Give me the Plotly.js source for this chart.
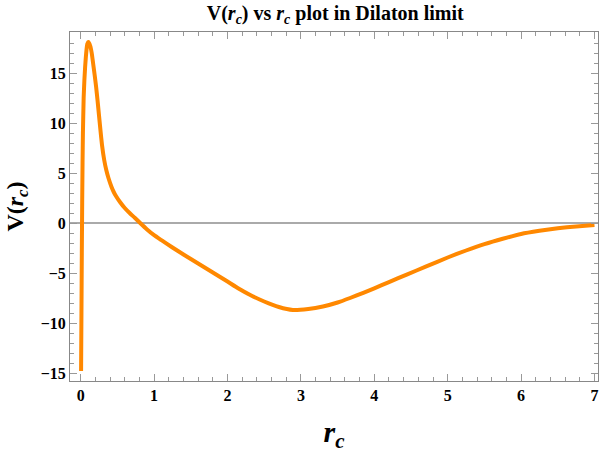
<!DOCTYPE html>
<html lang="en">
<head>
    <meta charset="UTF-8">
    <title>V(rc) vs rc plot in Dilaton limit</title>
    <script src="https://cdn.plot.ly/plotly-3.0.1.min.js"></script>
    <style>
        body { margin: 0; background: white; }
        #chart { width: 604px; height: 453px; }
    </style>
</head>
<body>
    <div id="chart"></div>
    <script>
        // values
        const rc = [0.005, 0.01, 0.015, 0.02, 0.025, 0.03, 0.04, 0.05, 0.06, 0.07, 0.08, 0.09, 0.105,
            0.13, 0.15, 0.17, 0.19, 0.21, 0.23, 0.25, 0.27, 0.29, 0.32, 0.35, 0.38, 0.42, 0.45, 0.48, 0.535,
            0.6, 0.67, 0.74, 0.81, 0.9, 1.0, 1.1, 1.25, 1.4, 1.6, 1.8, 2.0, 2.15, 2.31, 2.5, 2.7,
            2.89, 3.1, 3.3, 3.5, 3.67, 3.85, 4.0, 4.2, 4.45, 4.7, 5.0, 5.25, 5.5, 5.75, 6.0, 6.25, 6.5,
            6.75, 7.0];
        const V = [-14.8, -9, -3, 2, 6, 9, 12.5, 14.3, 15.6, 16.6, 17.4, 17.9, 18.1,
            17.7, 17.0, 15.9, 14.8, 13.6, 12.2, 10.7, 9.2, 7.8, 6.3, 5.25, 4.45, 3.6, 3.1, 2.7, 2.1,
            1.5, 0.97, 0.5, 0, -0.62, -1.22, -1.72, -2.45, -3.15, -4.05, -4.95, -5.85, -6.55, -7.2, -7.85, -8.4,
            -8.7, -8.6, -8.35, -7.95, -7.5, -6.98, -6.53, -5.91, -5.13, -4.37, -3.45, -2.75, -2.12, -1.58, -1.1, -0.78, -0.52,
            -0.34, -0.2];
        const xTicks = [0, 1, 2, 3, 4, 5, 6, 7];
        const yTicks = [-15, -10, -5, 0, 5, 10, 15];

        const font = 'Liberation Serif, Times New Roman, serif';

        const trace = {
            x: rc,
            y: V,
            mode: 'lines',
            line: { color: '#ff8800', width: 4, shape: 'spline', smoothing: 0.4 },
            hoverinfo: 'none'
        };

        const layout = {
            width: 604,
            height: 453,
            margin: { l: 70, r: 6, t: 32, b: 72 },
            paper_bgcolor: 'white',
            plot_bgcolor: 'white',
            showlegend: false,
            title: {
                text: '<b>V(<i>r<sub>c</sub></i>) vs <i>r<sub>c</sub></i> plot in Dilaton limit</b>',
                font: { family: font, size: 20, color: '#000' },
                x: 0.555, xanchor: 'center', y: 0.972, yanchor: 'middle'
            },
            xaxis: {
                range: [-0.146, 7.048],
                tickvals: xTicks,
                ticks: 'inside', ticklen: 7, tickcolor: '#999', tickwidth: 1,
                minor: { dtick: 0.2, ticks: 'inside', ticklen: 4, tickcolor: '#999' },
                showgrid: false, zeroline: false,
                showline: true, linecolor: '#888', linewidth: 1, mirror: 'ticks',
                tickfont: { family: font, size: 16, color: '#000', weight: 'bold' },
                title: {
                    text: '<b><i>r<sub>c</sub></i></b>',
                    font: { family: font, size: 30, color: '#000' },
                    standoff: 18
                }
            },
            yaxis: {
                range: [-15.8, 19.1],
                tickvals: yTicks,
                ticks: 'inside', ticklen: 7, tickcolor: '#999', tickwidth: 1,
                minor: { dtick: 1, ticks: 'inside', ticklen: 4, tickcolor: '#999' },
                showgrid: false,
                zeroline: true, zerolinecolor: '#aaa', zerolinewidth: 1.5,
                showline: true, linecolor: '#888', linewidth: 1, mirror: 'ticks',
                tickfont: { family: font, size: 16, color: '#000', weight: 'bold' },
                title: {
                    text: '<b>V(<i>r<sub>c</sub></i>)</b>',
                    font: { family: font, size: 24, color: '#000' },
                    standoff: 10
                }
            }
        };

        Plotly.newPlot('chart', [trace], layout, { displayModeBar: false, staticPlot: true });
    </script>
</body>
</html>
